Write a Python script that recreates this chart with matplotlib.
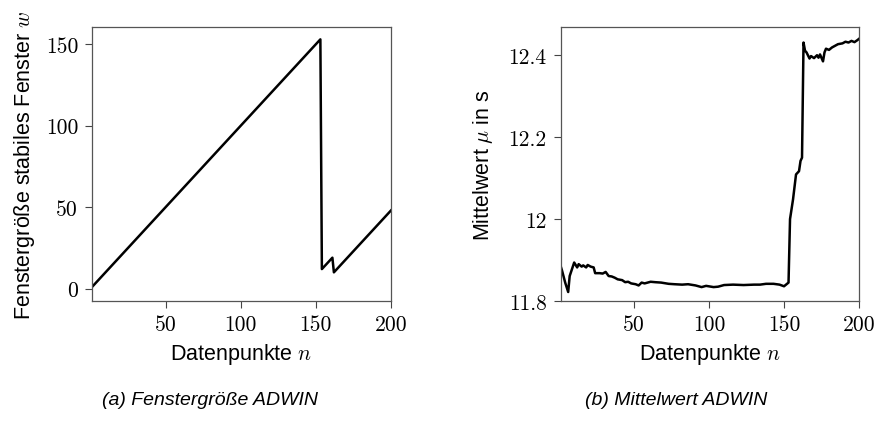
import numpy as np
import matplotlib
matplotlib.use("Agg")
import matplotlib.pyplot as plt

plt.rcParams['font.family'] = ['Liberation Sans', 'DejaVu Sans']
plt.rcParams['mathtext.fontset'] = 'cm'

# --- data --------------------------------------------------------------------
# (a) window size: vertices of the polyline
win_n = [1, 153, 154, 161, 162, 200]
win_w = [1, 153, 12, 19, 10, 48]

# (b) running mean in seconds
mean_n = [1, 2, 4, 6, 7, 10, 12, 13, 15, 16, 18, 19, 21, 23, 24, 27, 29, 31,
          33, 35, 37, 39, 42, 44, 46, 48, 51, 53, 55, 57, 61, 64, 68, 73, 77,
          82, 86, 91, 95, 98, 103, 106, 110, 116, 123, 130, 134, 138, 143,
          147, 150, 153, 154, 156, 158, 160, 161, 162, 163, 164, 165, 167,
          168, 170, 172, 173, 174, 176, 177, 178, 180, 182, 184, 186, 189,
          191, 193, 195, 197, 199, 200]
mean_v = [11.885, 11.873, 11.845, 11.822, 11.861, 11.894, 11.882, 11.890,
          11.884, 11.887, 11.882, 11.888, 11.884, 11.882, 11.868, 11.868,
          11.867, 11.871, 11.861, 11.860, 11.857, 11.853, 11.851, 11.846,
          11.847, 11.843, 11.841, 11.838, 11.845, 11.843, 11.847, 11.846,
          11.845, 11.842, 11.841, 11.840, 11.841, 11.838, 11.834, 11.837,
          11.834, 11.835, 11.839, 11.840, 11.839, 11.840, 11.840, 11.842,
          11.842, 11.840, 11.836, 11.845, 12.000, 12.048, 12.109, 12.117,
          12.142, 12.150, 12.431, 12.411, 12.407, 12.392, 12.398, 12.393,
          12.400, 12.394, 12.402, 12.385, 12.407, 12.416, 12.413, 12.419,
          12.423, 12.427, 12.429, 12.433, 12.431, 12.435, 12.432, 12.437,
          12.440]

x_ticks = [50, 100, 150, 200]
w_ticks = [0, 50, 100, 150]
mu_ticks = [11.8, 12.0, 12.2, 12.4]
mu_ticklabels = ['11.8', '12', '12.2', '12.4']

captions = ['(a) Fenstergröße ADWIN', '(b) Mittelwert ADWIN']

# --- figure ------------------------------------------------------------------
fig = plt.figure(figsize=(8.82, 4.35), dpi=100)
ax1 = fig.add_axes([0.1043, 0.3057, 0.339, 0.630])
ax2 = fig.add_axes([0.6357, 0.3057, 0.3382, 0.630])

ax1.plot(win_n, win_w, color='black', lw=1.8)
ax1.set_xlim(1, 200)
ax1.set_ylim(-7.6, 160.6)
ax1.set_yticks(w_ticks, [str(t) for t in w_ticks])
ax1.set_ylabel('Fenstergröße stabiles Fenster $w$', fontsize=15.5,
               labelpad=6)

ax2.plot(mean_n, mean_v, color='black', lw=1.8)
ax2.set_xlim(1, 200)
ax2.set_ylim(11.8, 12.469)
ax2.set_yticks(mu_ticks, mu_ticklabels)
ax2.set_ylabel(r'Mittelwert $\mu$ in s', fontsize=15.5, labelpad=10)

for ax in (ax1, ax2):
    ax.set_xticks(x_ticks, [str(t) for t in x_ticks])
    ax.set_xlabel('Datenpunkte $n$', fontsize=15.5, labelpad=5)
    ax.tick_params(labelsize=15.5, color='#444444', length=5, width=0.8,
                   pad=5)
    for lbl in ax.get_xticklabels() + ax.get_yticklabels():
        lbl.set_fontfamily('cmr10')
    for s in ax.spines.values():
        s.set_color('#555555')
        s.set_linewidth(0.9)

fig.text(0.238, 0.08, captions[0], fontsize=14, style='italic',
         ha='center', va='center')
fig.text(0.767, 0.08, captions[1], fontsize=14, style='italic',
         ha='center', va='center')

fig.savefig('out.png', dpi=100)
